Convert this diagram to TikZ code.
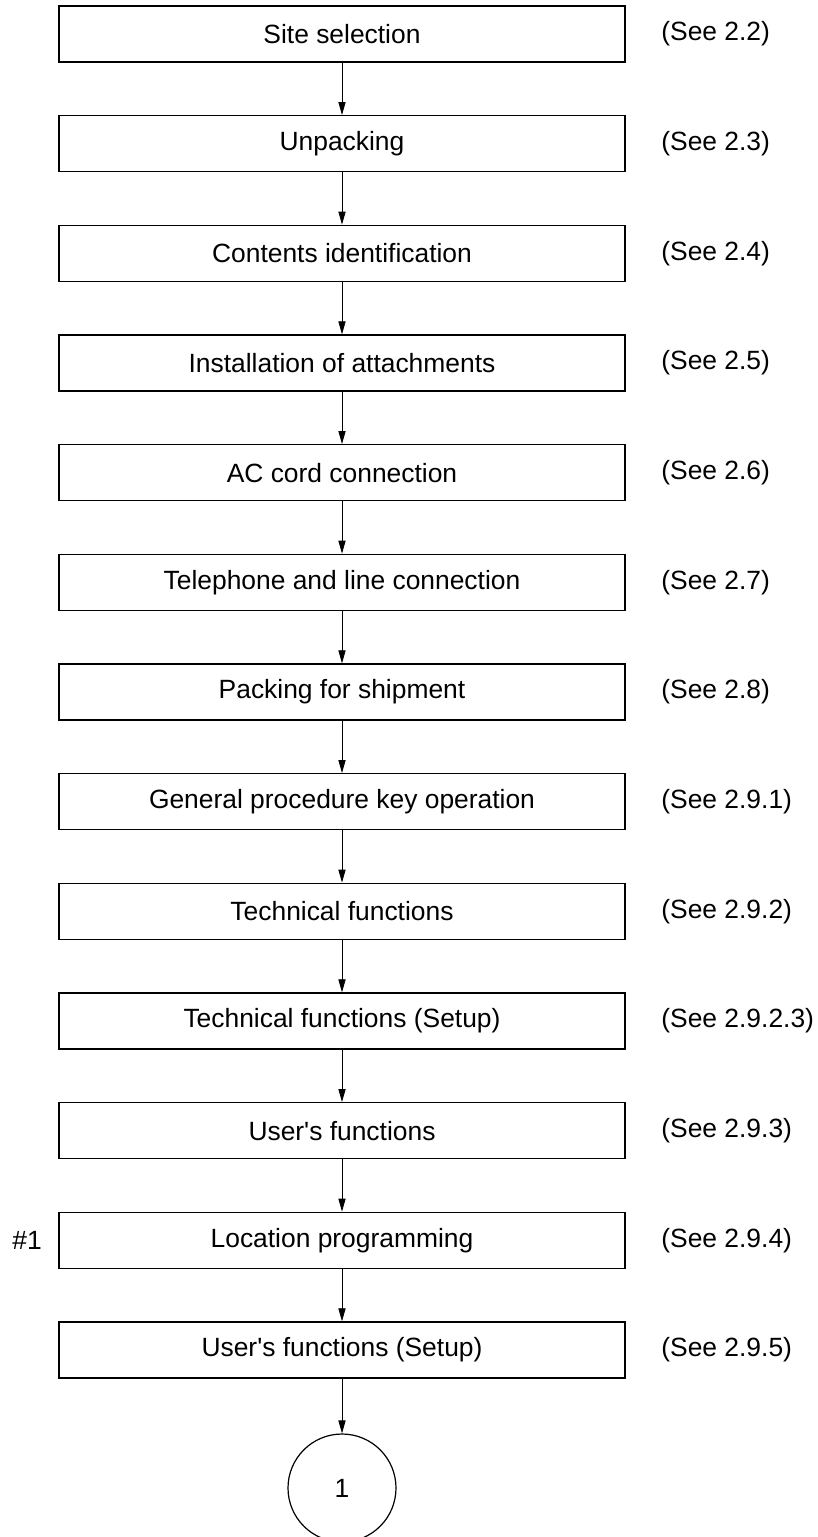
\documentclass[tikz,border=0pt]{standalone}
\usepackage{fontspec}
\setmainfont{Liberation Sans}
\usepackage{tikz}
\usetikzlibrary{arrows.meta,positioning}
\tikzset{
  stepbox/.style={ draw, line width=0.7pt, minimum width=283pt, minimum height=28pt, inner sep=0pt }
}
\tikzset{
  seeref/.style={ anchor=west, inner sep=0pt }
}
\tikzset{
  connA/.style={ draw, circle, line width=0.6pt, minimum size=54pt, inner sep=0pt }
}

\begin{document}
\begin{tikzpicture}[x=0.5pt, y=-0.5pt, font=\fontsize{13.2}{15}\selectfont,
    >={Triangle[length=6.5pt, width=3.6pt]}]
      \useasboundingbox (0,0) rectangle (818,1537);
      \node[stepbox] (site) at (342, 34) {Site selection};
      \node[stepbox] (unpack) at (342, 143.7) {Unpacking};
      \node[stepbox] (contents) at (342, 253.3) {Contents identification};
      \node[stepbox] (attach) at (342, 363) {Installation of attachments};
      \node[stepbox] (accord) at (342, 472.7) {AC cord connection};
      \node[stepbox] (phone) at (342, 582.3) {Telephone and line connection};
      \node[stepbox] (packing) at (342, 692) {Packing for shipment};
      \node[stepbox] (keyop) at (342, 801.7) {General procedure key operation};
      \node[stepbox] (tech) at (342, 911.3) {Technical functions};
      \node[stepbox] (techset) at (342, 1021) {Technical functions (Setup)};
      \node[stepbox] (user) at (342, 1130.7) {User\textquotesingle s functions};
      \node[stepbox] (locprog) at (342, 1240.3) {Location programming};
      \node[stepbox] (userset) at (342, 1350) {User\textquotesingle s functions (Setup)};
      \node[connA] (cont) at (342, 1488) {1};

      \node[seeref] (r-site) at (661, 34) {(See 2.2)};
      \node[seeref] (r-unpack) at (661, 143.7) {(See 2.3)};
      \node[seeref] (r-contents) at (661, 253.3) {(See 2.4)};
      \node[seeref] (r-attach) at (661, 363) {(See 2.5)};
      \node[seeref] (r-accord) at (661, 472.7) {(See 2.6)};
      \node[seeref] (r-phone) at (661, 582.3) {(See 2.7)};
      \node[seeref] (r-packing) at (661, 692) {(See 2.8)};
      \node[seeref] (r-keyop) at (661, 801.7) {(See 2.9.1)};
      \node[seeref] (r-tech) at (661, 911.3) {(See 2.9.2)};
      \node[seeref] (r-techset) at (661, 1021) {(See 2.9.2.3)};
      \node[seeref] (r-user) at (661, 1130.7) {(See 2.9.3)};
      \node[seeref] (r-locprog) at (661, 1240.3) {(See 2.9.4)};
      \node[seeref] (r-userset) at (661, 1350) {(See 2.9.5)};
      \node[seeref] (mark) at (12, 1240.3) {\#1};

      \draw[->] (site) edge (unpack);
      \draw[->] (unpack) edge (contents);
      \draw[->] (contents) edge (attach);
      \draw[->] (attach) edge (accord);
      \draw[->] (accord) edge (phone);
      \draw[->] (phone) edge (packing);
      \draw[->] (packing) edge (keyop);
      \draw[->] (keyop) edge (tech);
      \draw[->] (tech) edge (techset);
      \draw[->] (techset) edge (user);
      \draw[->] (user) edge (locprog);
      \draw[->] (locprog) edge (userset);
      \draw[->] (userset) edge (cont);
    \end{tikzpicture}
\end{document}
